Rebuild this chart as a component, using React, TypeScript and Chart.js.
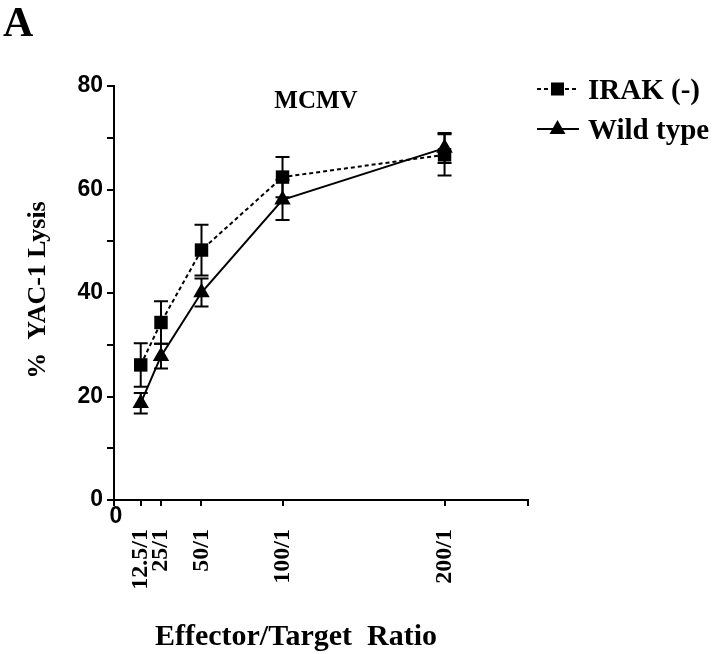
import React, { useEffect, useRef } from 'react';
import { Chart, registerables } from 'chart.js';

Chart.register(...registerables);

// ---- data ----
const ratios = [12.5, 25, 50, 100, 200];
const ratioLabels = ['12.5/1', '25/1', '50/1', '100/1', '200/1'];
const irakValues = [26.1, 34.3, 48.3, 62.4, 66.7];
const irakErrors = [4.2, 4.1, 4.9, 3.9, 4.0];
const wildValues = [18.7, 27.8, 40.1, 58.0, 68.0];
const wildErrors = [2.0, 2.4, 2.7, 3.9, 2.9];
const yTickValues = [0, 10, 20, 30, 40, 50, 60, 70, 80];
const yLabelValues = [0, 20, 40, 60, 80];
const seriesNames = ['IRAK (-)', 'Wild type'];
const X_MIN = -4;
const X_MAX = 251.5;

const SERIF = '"Liberation Serif", "Times New Roman", serif';
const SANS = '"Liberation Sans", Arial, sans-serif';

const errorBarPlugin = {
  id: 'errorBars',
  beforeDatasetsDraw(chart: any) {
    const ctx = chart.ctx;
    const xs = chart.scales.x;
    const ys = chart.scales.y;
    const sets = [
      { vals: irakValues, errs: irakErrors },
      { vals: wildValues, errs: wildErrors },
    ];
    ctx.save();
    ctx.strokeStyle = '#000';
    ctx.lineWidth = 2;
    sets.forEach((s) => {
      ratios.forEach((r, i) => {
        const px = xs.getPixelForValue(r);
        const hi = ys.getPixelForValue(s.vals[i] + s.errs[i]);
        const lo = ys.getPixelForValue(s.vals[i] - s.errs[i]);
        ctx.beginPath();
        ctx.moveTo(px, hi);
        ctx.lineTo(px, lo);
        ctx.moveTo(px - 7, hi);
        ctx.lineTo(px + 7, hi);
        ctx.moveTo(px - 7, lo);
        ctx.lineTo(px + 7, lo);
        ctx.stroke();
      });
    });
    ctx.restore();
  },
};

const textPlugin = {
  id: 'texts',
  afterDraw(chart: any) {
    const ctx = chart.ctx;
    const area = chart.chartArea;
    ctx.save();
    ctx.fillStyle = '#000';
    ctx.strokeStyle = '#000';

    // panel letter
    ctx.font = `bold 42px ${SERIF}`;
    ctx.textAlign = 'left';
    ctx.textBaseline = 'alphabetic';
    ctx.fillText('A', 3, 36);

    // title
    ctx.font = `bold 25px ${SERIF}`;
    ctx.textAlign = 'center';
    ctx.fillText('MCMV', 316, 108);

    // x-axis origin label
    ctx.font = `bold 23px ${SANS}`;
    ctx.textAlign = 'center';
    ctx.textBaseline = 'middle';
    ctx.fillText('0', area.left + 2, 517);

    // x axis title
    ctx.font = `bold 30px ${SERIF}`;
    ctx.textAlign = 'center';
    ctx.textBaseline = 'alphabetic';
    ctx.fillText('Effector/Target  Ratio', 296, 645);

    // y axis title
    ctx.save();
    ctx.translate(45, 290);
    ctx.rotate(-Math.PI / 2);
    ctx.font = `bold 26px ${SERIF}`;
    ctx.textAlign = 'center';
    ctx.textBaseline = 'alphabetic';
    ctx.fillText('%  YAC-1 Lysis', 0, 0);
    ctx.restore();

    // legend
    const rows = [
      { y: 89, base: 99, dash: [4, 3], marker: 'rect' },
      { y: 129, base: 139, dash: [], marker: 'triangle' },
    ];
    rows.forEach((r, i) => {
      ctx.lineWidth = 2;
      ctx.setLineDash(r.dash);
      ctx.beginPath();
      ctx.moveTo(537, r.y);
      ctx.lineTo(579, r.y);
      ctx.stroke();
      ctx.setLineDash([]);
      if (r.marker === 'rect') {
        ctx.fillRect(551, r.y - 6.5, 13, 13);
      } else {
        ctx.beginPath();
        ctx.moveTo(557.5, r.y - 9);
        ctx.lineTo(565.5, r.y + 5);
        ctx.lineTo(549.5, r.y + 5);
        ctx.closePath();
        ctx.fill();
      }
      ctx.font = `bold 29px ${SERIF}`;
      ctx.textAlign = 'left';
      ctx.textBaseline = 'alphabetic';
      ctx.fillText(seriesNames[i], 588, r.base);
    });
    ctx.restore();
  },
};

export default function App() {
  const ref = useRef<HTMLCanvasElement | null>(null);

  useEffect(() => {
    if (!ref.current) return;
    const chart = new Chart(ref.current, {
      type: 'line',
      data: {
        datasets: [
          {
            label: seriesNames[0],
            data: ratios.map((x, i) => ({ x, y: irakValues[i] })),
            borderColor: '#000',
            backgroundColor: '#000',
            borderWidth: 2,
            borderDash: [4, 3],
            pointStyle: 'rect',
            pointRadius: 9.5,
            pointBorderWidth: 0,
            pointBackgroundColor: '#000',
            tension: 0,
            fill: false,
          },
          {
            label: seriesNames[1],
            data: ratios.map((x, i) => ({ x, y: wildValues[i] })),
            borderColor: '#000',
            backgroundColor: '#000',
            borderWidth: 2,
            pointStyle: 'triangle',
            pointRadius: 9.5,
            pointBorderWidth: 0,
            pointBackgroundColor: '#000',
            tension: 0,
            fill: false,
          },
        ],
      },
      options: {
        animation: false,
        responsive: false,
        devicePixelRatio: 1,
        layout: { padding: { top: 86, right: 192, left: 0, bottom: 0 } },
        plugins: {
          legend: { display: false },
          title: { display: false },
          tooltip: { enabled: false },
        },
        scales: {
          x: {
            type: 'linear',
            min: X_MIN,
            max: X_MAX,
            afterBuildTicks: (s: any) => {
              s.ticks = [X_MIN, ...ratios, X_MAX].map((v) => ({ value: v }));
            },
            afterFit: (s: any) => {
              s.height = 154;
            },
            grid: {
              drawOnChartArea: false,
              drawTicks: true,
              tickLength: 6,
              color: '#000',
              lineWidth: 2,
            },
            border: { display: true, color: '#000', width: 2 },
            ticks: {
              autoSkip: false,
              maxRotation: 90,
              minRotation: 90,
              padding: 23,
              color: '#000',
              font: { family: SERIF, weight: 'bold', size: 24 },
              callback: (v: any) => {
                const i = ratios.indexOf(Number(v));
                return i >= 0 ? ratioLabels[i] : '';
              },
            },
          },
          y: {
            type: 'linear',
            min: 0,
            max: 80,
            afterBuildTicks: (s: any) => {
              s.ticks = yTickValues.map((v) => ({ value: v }));
            },
            afterFit: (s: any) => {
              s.width = 114;
            },
            grid: {
              drawOnChartArea: false,
              drawTicks: true,
              tickLength: 7,
              color: '#000',
              lineWidth: 2,
            },
            border: { display: true, color: '#000', width: 2 },
            ticks: {
              padding: 4,
              labelOffset: 0,
              color: '#000',
              font: { family: SANS, weight: 'bold', size: 23 },
              callback: (v: any) => (yLabelValues.includes(Number(v)) ? String(v) : ''),
            },
          },
        },
      },
      plugins: [errorBarPlugin, textPlugin],
    } as any);
    return () => chart.destroy();
  }, []);

  return (
    <div style={{ position: 'absolute', left: 0, top: 0, width: 720, height: 654, background: '#fff' }}>
      <canvas ref={ref} width={720} height={654} style={{ width: 720, height: 654, display: 'block' }} />
    </div>
  );
}
